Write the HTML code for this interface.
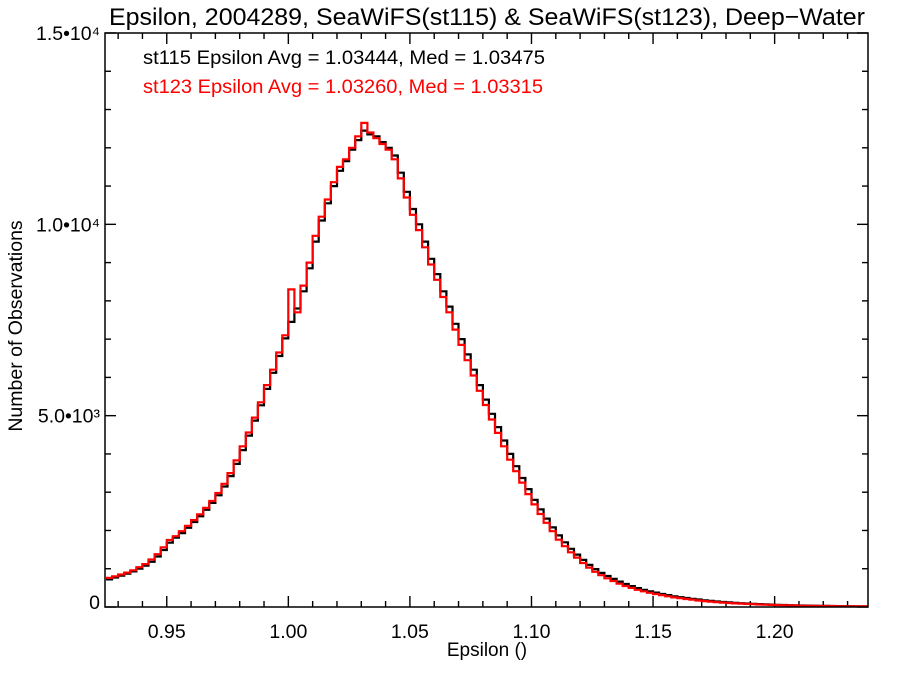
<!DOCTYPE html>
<html><head><meta charset="utf-8"><style>
body{margin:0;background:#fff}
svg text{font-family:"Liberation Sans",Helvetica,sans-serif}
</style></head><body>
<svg id="chart" width="900" height="675" xmlns="http://www.w3.org/2000/svg">
<rect width="900" height="675" fill="#fff"/>
<text x="487" y="25" font-size="24.5" text-anchor="middle" textLength="756" lengthAdjust="spacingAndGlyphs">Epsilon, 2004289, SeaWiFS(st115) &amp; SeaWiFS(st123), Deep−Water</text>
<text x="143" y="64" font-size="19.5" textLength="402" lengthAdjust="spacingAndGlyphs">st115 Epsilon Avg = 1.03444, Med = 1.03475</text>
<text x="143" y="93" font-size="19.5" fill="#ff0000" textLength="400" lengthAdjust="spacingAndGlyphs">st123 Epsilon Avg = 1.03260, Med = 1.03315</text>
<text x="487" y="656" font-size="19" text-anchor="middle">Epsilon ()</text>
<text transform="translate(22,326) rotate(-90)" font-size="19.5" text-anchor="middle">Number of Observations</text>
<g id="ticks"></g>
<g id="series"></g>
<rect x="105" y="33" width="763" height="574" fill="none" stroke="#000" stroke-width="1.5"/>
</svg>
<script>
const binStart = 0.925;
const binWidth = 0.0025;
const red = [760,800,850,900,960,1040,1120,1240,1380,1560,1750,1850,1980,2120,2270,2420,2590,2770,2980,3220,3500,3830,4200,4560,4950,5350,5800,6200,6650,7100,8300,7700,8400,9000,9700,10200,10650,11100,11500,11700,12000,12300,12650,12400,12250,12100,11950,11700,11200,10700,10250,9850,9400,8950,8550,8100,7700,7250,6850,6450,6050,5650,5280,4900,4550,4200,3850,3550,3250,2950,2680,2430,2200,1980,1760,1590,1430,1290,1150,1030,920,830,750,680,610,550,500,450,410,370,340,310,280,250,230,210,190,170,155,140,125,115,105,95,88,80,72,66,60,55,50,46,42,38,35,32,29,27,25,23,21,19,18,16,15,14];
const black = [720,770,820,870,930,1000,1080,1180,1320,1490,1680,1810,1930,2070,2220,2370,2540,2720,2920,3150,3420,3740,4100,4480,4870,5270,5700,6120,6560,7020,7450,7800,8250,8850,9550,10100,10550,11000,11400,11650,11950,12200,12450,12350,12300,12150,12000,11800,11350,10850,10400,10000,9550,9100,8700,8250,7850,7400,7000,6600,6200,5800,5420,5050,4700,4350,4000,3680,3370,3080,2800,2550,2310,2080,1870,1690,1520,1370,1230,1100,990,890,810,735,665,600,545,495,450,410,375,340,310,280,255,235,215,195,175,160,145,130,120,110,100,92,84,77,70,64,58,53,48,44,40,37,34,31,28,26,24,22,20,18,17,16];
const xTickLabels = ["0.95","1.00","1.05","1.10","1.15","1.20"];
const xTickValues = [0.95,1.00,1.05,1.10,1.15,1.20];
const yTickLabels = ["0","5.0•10³","1.0•10⁴","1.5•10⁴"];
const yTickValues = [0,5000,10000,15000];

const L=105,R=868,T=33,B=607,xmin=0.9246,xmax=1.2384,ymax=15000;
const X=v=>L+(v-xmin)/(xmax-xmin)*(R-L);
const Y=v=>B-v/ymax*(B-T);
const NS="http://www.w3.org/2000/svg";
const tg=document.getElementById('ticks');
function ln(x1,y1,x2,y2,name){const l=document.createElementNS(NS,'line');
l.setAttribute('x1',x1);l.setAttribute('y1',y1);l.setAttribute('x2',x2);l.setAttribute('y2',y2);
l.setAttribute('stroke','#000');l.setAttribute('stroke-width','1.4');


tg.appendChild(l);}
for(let k=93;k<=123;k++){const v=k/100;const x=X(v);const major=(k%5===0);const len=major?11:6;
ln(x,B,x,B-len,'x-tick');ln(x,T,x,T+len,'x-tick-top');}
for(let k=0;k<=15;k++){const v=k*1000;const y=Y(v);const major=(k%5===0);const len=major?11:6;
ln(L,y,L+len,y,'y-tick');ln(R,y,R-len,y,'y-tick-right');}
xTickValues.forEach((v,i)=>{const t=document.createElementNS(NS,'text');t.setAttribute('x',X(v));t.setAttribute('y',B+31);
t.setAttribute('font-size','19.5');t.setAttribute('text-anchor','middle');t.textContent=xTickLabels[i];


tg.appendChild(t);});
yTickValues.forEach((v,i)=>{const t=document.createElementNS(NS,'text');t.setAttribute('x',L-5);t.setAttribute('y',Y(v)+(i===0?2:7));
t.setAttribute('font-size','19.5');t.setAttribute('text-anchor','end');t.textContent=yTickLabels[i];


tg.appendChild(t);});
const sg=document.getElementById('series');
function hist(arr,color,name){let d='';arr.forEach((v,i)=>{const x0=X(Math.max(binStart+i*binWidth,xmin)),x1=X(Math.min(binStart+(i+1)*binWidth,xmax));const y=Y(v);
d+=(i===0?'M':'L')+x0.toFixed(1)+','+y.toFixed(1)+'L'+x1.toFixed(1)+','+y.toFixed(1);});
const p=document.createElementNS(NS,'path');p.setAttribute('d',d);p.setAttribute('fill','none');p.setAttribute('stroke',color);p.setAttribute('stroke-width','2.2');


sg.appendChild(p);}
hist(black,'#000','st115-histogram');
hist(red,'#ff0000','st123-histogram');
</script>
</body></html>
